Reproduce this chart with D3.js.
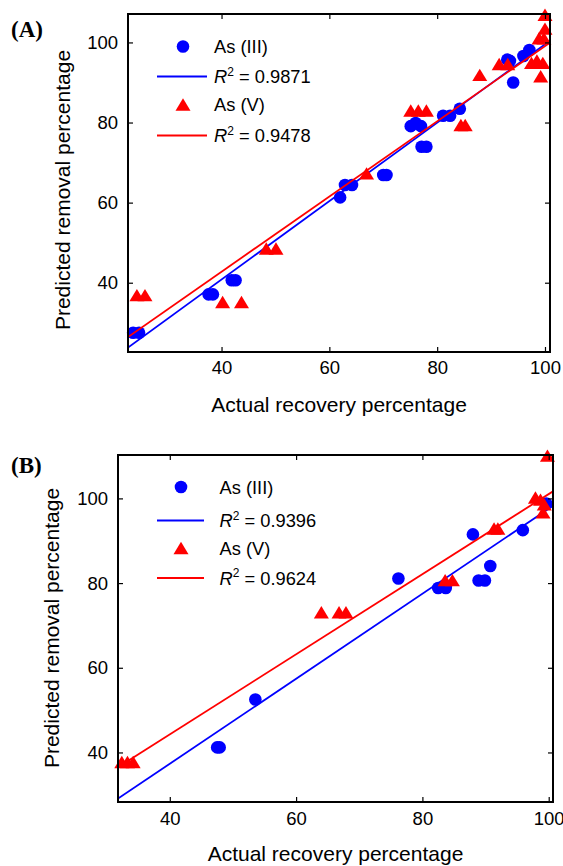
<!DOCTYPE html>
<html>
<head>
<meta charset="utf-8">
<script src="https://cdn.jsdelivr.net/npm/d3@7"></script>
<style>
  body { margin: 0; background: #fff; }
  text { font-family: Arial, "Liberation Sans", Helvetica, sans-serif; fill: #000; }
  text.letter { font-family: "Liberation Serif", "Times New Roman", serif; font-weight: bold; }
</style>
</head>
<body>
<svg id="chart" width="563" height="866"></svg>
<script>
// ---- data ----
const xTicks = [40, 60, 80, 100];
const yTicks = [40, 60, 80, 100];

// panel A  [actual, predicted]
const aAs3 = [[23.6, 27.5], [24.7, 27.5], [37.6, 37.1], [38.4, 37.1], [41.9, 40.6], [42.6, 40.6],
  [62.0, 61.3], [62.9, 64.4], [64.2, 64.4], [70.0, 66.9], [70.6, 66.9], [77.1, 73.95], [78.0, 73.95],
  [75.1, 79.1], [76.0, 79.9], [77.0, 79.1], [81.1, 81.7], [82.4, 81.7], [84.2, 83.45],
  [94.1, 90.0], [93.0, 95.7], [93.5, 95.4], [96.0, 96.6], [97.1, 98.1]];
const aAs5 = [[24.3, 36.9], [25.8, 36.9], [40.2, 35.2], [43.7, 35.2], [48.3, 48.55], [50.1, 48.55],
  [66.9, 67.3], [75.1, 83.0], [76.5, 83.0], [78.0, 83.0], [84.4, 79.4], [85.2, 79.4], [87.9, 91.9],
  [91.5, 94.6], [93.1, 94.6], [97.5, 94.9], [98.5, 95.5], [99.6, 94.9], [99.2, 91.55],
  [98.9, 101.05], [99.8, 101.05], [100.0, 103.45], [100.0, 106.9]];
const aFitAs3 = [1.63, 0.979];   // intercept, slope
const aFitAs5 = [5.18, 0.939];
const aR2 = ["0.9871", "0.9478"];

// panel B
const bAs3 = [[47.5, 41.2], [47.9, 41.2], [53.55, 52.5], [76.2, 81.1], [82.5, 78.85], [83.7, 78.85],
  [88.0, 91.5], [88.9, 80.6], [89.9, 80.6], [90.75, 84.05], [95.9, 92.5], [99.6, 98.8]];
const bAs5 = [[32.4, 37.75], [33.3, 37.75], [34.2, 37.75], [64.0, 73.1], [66.8, 73.1], [67.9, 73.1],
  [83.6, 80.7], [84.75, 80.7], [91.35, 92.9], [91.95, 92.9], [97.9, 100.2], [98.7, 99.7],
  [99.3, 98.6], [99.1, 96.7], [99.8, 110.1]];
const bFitAs3 = [-2.83, 1.004];
const bFitAs5 = [6.43, 0.946];
const bR2 = ["0.9396", "0.9624"];

const seriesNames = ["As (III)", "As (V)"];
const BLUE = "#0000ff", RED = "#ff0000";

const svg = d3.select("#chart");

function triPath(cx, cy) {
  const w = 7.5, h = 6.2;
  return `M${cx},${cy - h}L${cx + w},${cy + h}L${cx - w},${cy + h}Z`;
}

function drawPanel(o) {
  const x = d3.scaleLinear().domain(o.xDomain).range([o.left, o.right]);
  const y = d3.scaleLinear().domain(o.yDomain).range([o.bottom, o.top]);
  const g = svg.append("g");

  const clipId = "clip" + o.tag;
  g.append("clipPath").attr("id", clipId)
    .append("rect")
    .attr("x", o.left).attr("y", o.top)
    .attr("width", o.right - o.left).attr("height", o.bottom - o.top);

  const line = d3.line().x(d => x(d[0])).y(d => y(d[1]));
  const fitPts = f => o.xDomain.map(v => [v, f[0] + f[1] * v]);

  // As(III) markers, As(III) fit, As(V) markers, As(V) fit
  g.append("g").selectAll("circle")
    .data(o.s3).join("circle")
    .attr("cx", d => x(d[0])).attr("cy", d => y(d[1]))
    .attr("r", 6.3).attr("fill", BLUE);

  g.append("path").datum(fitPts(o.fit3))
    .attr("clip-path", `url(#${clipId})`)
    .attr("d", line).attr("fill", "none")
    .attr("stroke", BLUE).attr("stroke-width", 1.8);

  g.append("g").selectAll("path")
    .data(o.s5).join("path")
    .attr("d", d => triPath(x(d[0]), y(d[1])))
    .attr("fill", RED);

  g.append("path").datum(fitPts(o.fit5))
    .attr("clip-path", `url(#${clipId})`)
    .attr("d", line).attr("fill", "none")
    .attr("stroke", RED).attr("stroke-width", 1.8);

  // axes with inward ticks on all four sides
  const fmt = d3.format("d");
  g.append("g").attr("transform", `translate(0,${o.bottom})`)
    .call(d3.axisBottom(x).tickValues(xTicks).tickSizeInner(-5).tickSizeOuter(0)
      .tickPadding(o.xPad).tickFormat(fmt));
  g.append("g").attr("transform", `translate(0,${o.top})`)
    .call(d3.axisTop(x).tickValues(xTicks).tickSizeInner(-5).tickSizeOuter(0).tickFormat(""));
  g.append("g").attr("transform", `translate(${o.left},0)`)
    .call(d3.axisLeft(y).tickValues(yTicks).tickSizeInner(-5).tickSizeOuter(0)
      .tickPadding(10).tickFormat(fmt));
  g.append("g").attr("transform", `translate(${o.right},0)`)
    .call(d3.axisRight(y).tickValues(yTicks).tickSizeInner(-5).tickSizeOuter(0).tickFormat(""));

  g.selectAll(".domain").remove();
  g.selectAll(".tick line").attr("stroke", "#000").attr("stroke-width", 1.2);
  g.selectAll(".tick text").style("font-size", "18.5px").attr("fill", "#000");

  g.append("rect")
    .attr("x", o.left).attr("y", o.top)
    .attr("width", o.right - o.left).attr("height", o.bottom - o.top)
    .attr("fill", "none").attr("stroke", "#000").attr("stroke-width", 2);

  // axis titles
  g.append("text")
    .attr("x", (o.left + o.right) / 2).attr("y", o.xTitleY)
    .attr("text-anchor", "middle").style("font-size", "21px")
    .text("Actual recovery percentage");
  g.append("text")
    .attr("transform", `translate(${o.yTitleX},${o.yTitleCy}) rotate(-90)`)
    .attr("text-anchor", "middle").style("font-size", "21px")
    .text("Predicted removal percentage");

  // panel letter
  g.append("text").attr("class", "letter")
    .attr("x", 11).attr("y", o.letterY)
    .style("font-size", "23px")
    .text(o.letter);

  // legend
  const L = o.legend;
  const lg = g.append("g");
  lg.append("circle").attr("cx", L.mx).attr("cy", L.y[0]).attr("r", 6.3).attr("fill", BLUE);
  lg.append("path").attr("d", triPath(L.mx, L.y[2])).attr("fill", RED);
  [[L.y[1], BLUE], [L.y[3], RED]].forEach(([yy, c]) => {
    lg.append("line").attr("x1", L.l0).attr("x2", L.l1)
      .attr("y1", yy).attr("y2", yy).attr("stroke", c).attr("stroke-width", 1.8);
  });
  const labels = [seriesNames[0], null, seriesNames[1], null];
  const r2s = [null, o.r2[0], null, o.r2[1]];
  L.y.forEach((yy, i) => {
    const t = lg.append("text").attr("x", L.tx).attr("y", yy + 6.5).style("font-size", "18.3px");
    if (labels[i]) t.text(labels[i]);
    else {
      t.append("tspan").attr("font-style", "italic").text("R");
      t.append("tspan").style("font-size", "12px").attr("dy", -7.5).text("2");
      t.append("tspan").attr("dy", 7.5).text(" = " + r2s[i]);
    }
  });
}

drawPanel({
  tag: "A", letter: "(A)", letterY: 37,
  left: 128, right: 550, top: 14, bottom: 352,
  xDomain: [22.65, 100.93], yDomain: [22.7, 107.1],
  s3: aAs3, s5: aAs5, fit3: aFitAs3, fit5: aFitAs5, r2: aR2,
  xPad: 9, xTitleY: 412, yTitleX: 70, yTitleCy: 190,
  legend: { mx: 183, l0: 157, l1: 207, tx: 214, y: [46.5, 76.5, 104.5, 135.5] }
});

drawPanel({
  tag: "B", letter: "(B)", letterY: 473,
  left: 118, right: 553, top: 455, bottom: 802,
  xDomain: [31.8, 100.68], yDomain: [28.3, 110.25],
  s3: bAs3, s5: bAs5, fit3: bFitAs3, fit5: bFitAs5, r2: bR2,
  xPad: 10, xTitleY: 861, yTitleX: 59, yTitleCy: 628,
  legend: { mx: 181, l0: 157, l1: 204, tx: 219.5, y: [487, 520.5, 548, 578] }
});
</script>
</body>
</html>
